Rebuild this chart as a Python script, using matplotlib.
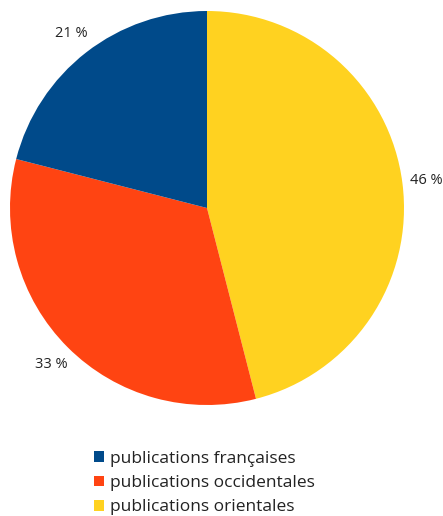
import matplotlib
matplotlib.use("Agg")
import matplotlib.pyplot as plt
from matplotlib.patches import Patch

categories = ["publications orientales", "publications occidentales", "publications françaises"]
values = [46, 33, 21]
colors = ["#FFD220", "#FF4412", "#004A8A"]
legend_order = [2, 1, 0]

plt.rcParams['font.family'] = ['Open Sans', 'DejaVu Sans']

W, H = 443, 516
fig = plt.figure(figsize=(W / 100, H / 100), dpi=100)
cx, cy, r = 207, 208, 197
ax = fig.add_axes([(cx - r) / W, (H - cy - r) / H, 2 * r / W, 2 * r / H])
wedges, texts, autotexts = ax.pie(values, colors=colors, startangle=90, counterclock=False,
                                  radius=1, autopct=lambda p: f"{p:.0f} %", pctdistance=1.12,
                                  textprops=dict(fontsize=10.5, color="#222222"))
ax.set_xlim(-1, 1)
ax.set_ylim(-1, 1)
ax.set_aspect('equal')
ax.axis('off')

handles = [Patch(facecolor=colors[i], edgecolor='none', label=categories[i]) for i in legend_order]
fig.legend(handles=handles, loc='upper left', bbox_to_anchor=(94 / W, 1 - 451 / H),
           frameon=False, fontsize=12.5, handlelength=0.58, handleheight=0.58,
           handletextpad=0.34, labelspacing=0.47, borderpad=0, borderaxespad=0,
           labelcolor="#222222")

fig.savefig("out.png", dpi=100)
